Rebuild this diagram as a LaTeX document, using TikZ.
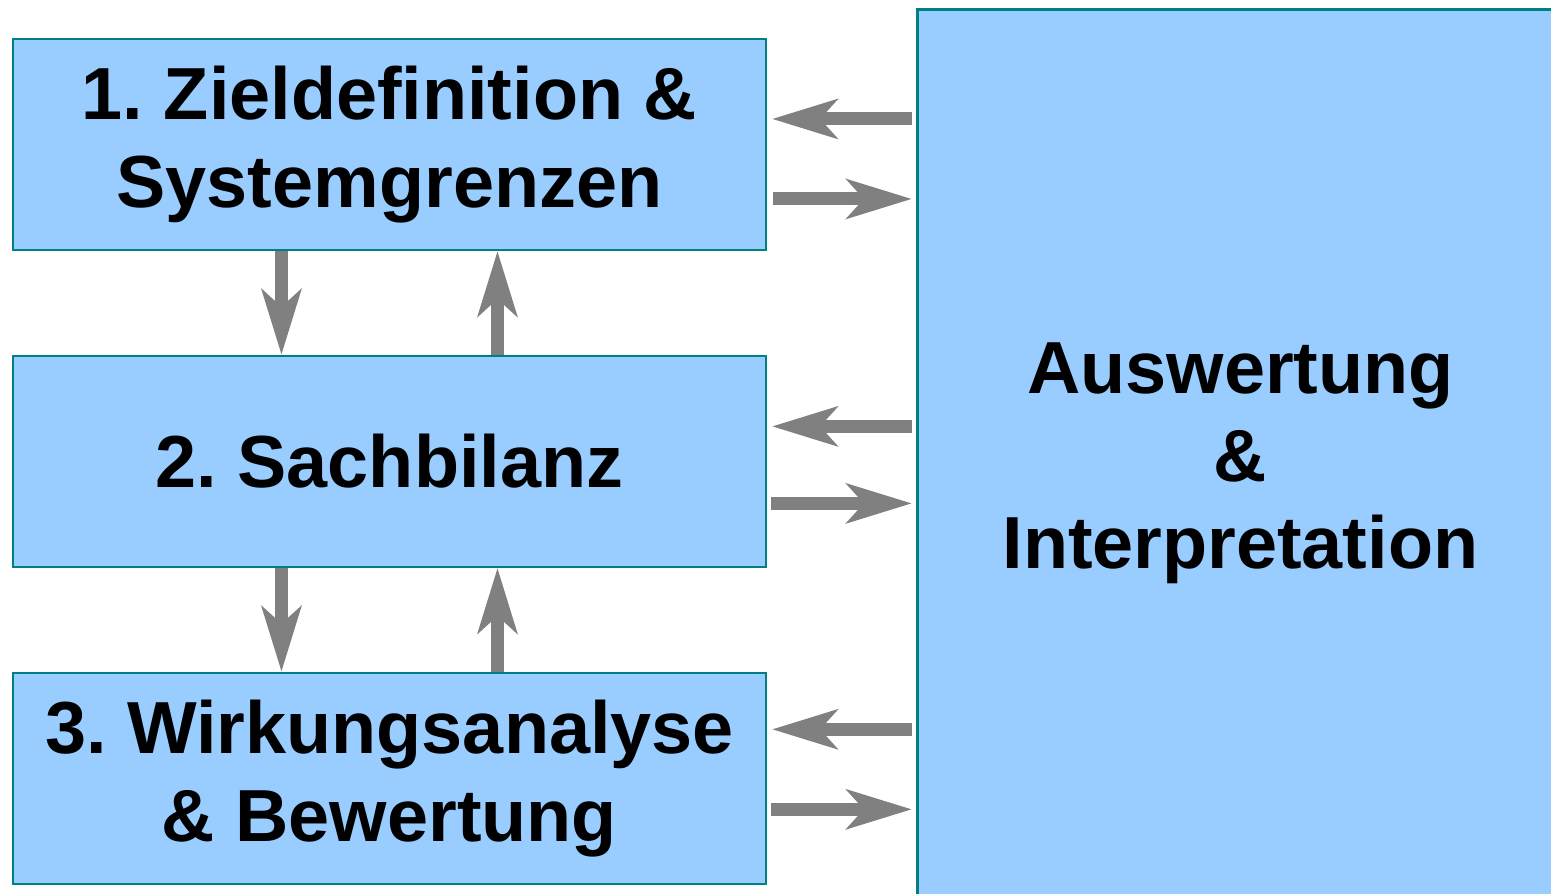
\documentclass[tikz,border=0pt]{standalone}
\usepackage{fontspec}
\setmainfont{Liberation Sans}
\usetikzlibrary{arrows.meta,positioning,calc}
\definecolor{skyfill}{RGB}{153,204,255}
\definecolor{tealline}{RGB}{0,128,128}
\definecolor{arrowgray}{RGB}{128,128,128}
\frenchspacing

\begin{document}
\begin{tikzpicture}[
  node distance=2.08cm,
  stage/.style={
    draw=tealline,
    fill=skyfill,
    line width=1.1pt,
    minimum width=15.06cm,
    minimum height=4.22cm,
    align=center,
    inner sep=0pt,
    font=\fontsize{42}{50}\selectfont\bfseries
  },
  evalbox/.style={
    stage,
    line width=1.6pt,
    minimum width=12.92cm,
    minimum height=18.16cm
  },
  flow/.style={
    -{Stealth[length=1.3cm,width=0.78cm,inset=0.34cm]},
    line width=0.26cm,
    arrowgray
  }
]
\useasboundingbox (0,0) rectangle (31.02,-17.88);

\node[stage,anchor=north west] (s1) at (0.24,-0.76) {1. Zieldefinition \&\\Systemgrenzen};
\node[stage,below=of s1] (s2) {2. Sachbilanz};
\node[stage,below=of s2] (s3) {3. Wirkungsanalyse\\\& Bewertung};
\node[evalbox,anchor=north west] (eval) at (18.32,-0.16) {Auswertung\\\&\\Interpretation};

% Between the stages
\draw[flow] ([xshift=-2.16cm]s1.south) -- ([xshift=-2.16cm]s2.north);
\draw[flow] ([xshift=2.16cm]s2.north) -- ([xshift=2.16cm]s1.south);
\draw[flow] ([xshift=-2.16cm]s2.south) -- ([xshift=-2.16cm]s3.north);
\draw[flow] ([xshift=2.16cm]s3.north) -- ([xshift=2.16cm]s2.south);

% To and from the evaluation
\draw[flow,shorten <=0.08cm,shorten >=0.1cm]
  ([yshift=0.51cm]s1.east -| eval.west) -- ([yshift=0.51cm]s1.east);
\draw[flow,shorten <=0.12cm,shorten >=0.08cm]
  ([yshift=-1.09cm]s1.east) -- ([yshift=-1.09cm]s1.east -| eval.west);

\draw[flow,shorten <=0.08cm,shorten >=0.1cm]
  ([yshift=0.7cm]s2.east -| eval.west) -- ([yshift=0.7cm]s2.east);
\draw[flow,shorten <=0.08cm,shorten >=0.08cm]
  ([yshift=-0.84cm]s2.east) -- ([yshift=-0.84cm]s2.east -| eval.west);

\draw[flow,shorten <=0.08cm,shorten >=0.1cm]
  ([yshift=0.98cm]s3.east -| eval.west) -- ([yshift=0.98cm]s3.east);
\draw[flow,shorten <=0.08cm,shorten >=0.08cm]
  ([yshift=-0.62cm]s3.east) -- ([yshift=-0.62cm]s3.east -| eval.west);

\end{tikzpicture}
\end{document}
